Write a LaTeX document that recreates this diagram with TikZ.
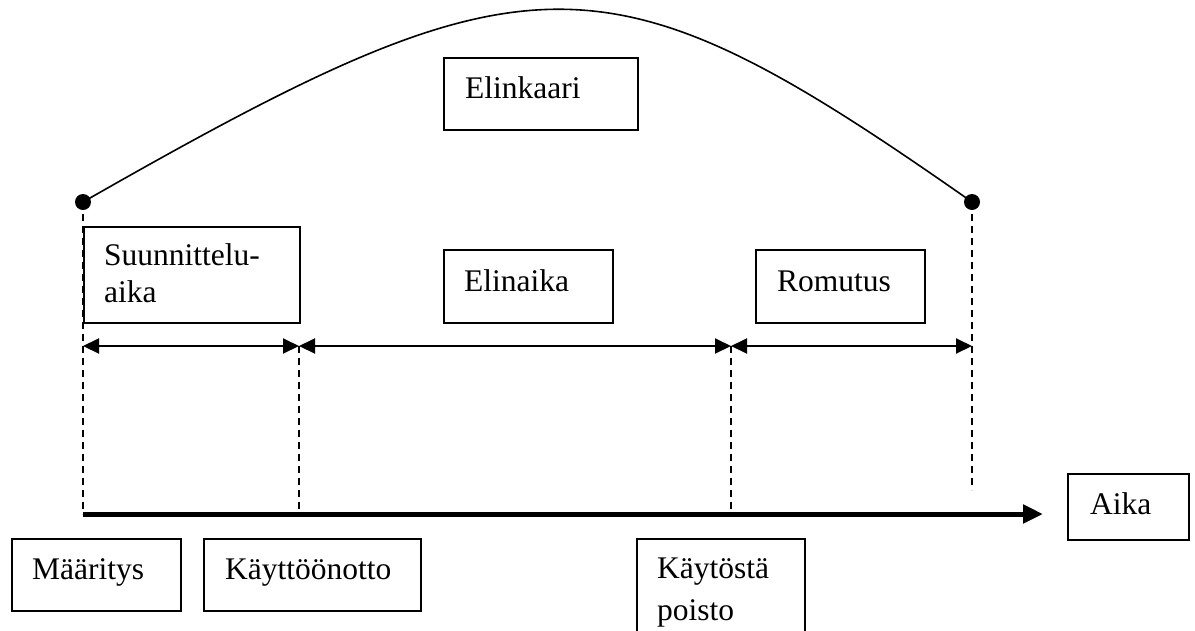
\documentclass[tikz,border=0pt]{standalone}
\usepackage{fontspec}
\setmainfont{Liberation Serif}
\usetikzlibrary{arrows.meta}
\begin{document}
\begin{tikzpicture}[x=1pt,y=-1pt,
  box/.style={draw, line width=1.5pt, inner sep=0pt, anchor=north west},
  txt/.style={inner sep=0pt, anchor=base west, align=left, font=\fontsize{31.5}{37}\selectfont},
  guide/.style={line width=1.5pt, dash pattern=on 7pt off 5pt},
  span/.style={line width=2pt, {Triangle[length=16pt,width=15pt]}-{Triangle[length=16pt,width=15pt]}},
  dot/.style={circle, fill, inner sep=0pt, minimum size=16pt},
  axis/.style={line width=5pt, -{Triangle[length=20pt,width=18pt]}},
  arc/.style={line width=1.6pt}
]
\useasboundingbox (0,0) rectangle (1195,630);
\clip (0,0) rectangle (1195,630);

% boxes
\node[box, minimum width=194pt, minimum height=72pt] (bElinkaari) at (443,57) {};
\node[box, minimum width=216pt, minimum height=96pt] (bSuunn) at (83,226) {};
\node[box, minimum width=169pt, minimum height=73pt] (bElinaika) at (443,249) {};
\node[box, minimum width=169pt, minimum height=73pt] (bRomutus) at (755,249) {};
\node[box, minimum width=169pt, minimum height=72pt] (bMaar) at (11,538) {};
\node[box, minimum width=217pt, minimum height=72pt] (bKayttoon) at (203,538) {};
\node[box, minimum width=168pt, minimum height=120pt] (bKaytosta) at (636,538) {};
\node[box, minimum width=121pt, minimum height=66pt] (bAika) at (1067,473) {};

% texts
\node[txt] (tElinkaari) at (465,98) {Elinkaari};
\node[txt] (tSuunn) at (104,302) {Suunnittelu-\\aika};
\node[txt] (tElinaika) at (464,291) {Elinaika};
\node[txt] (tRomutus) at (777,291) {Romutus};
\node[txt] (tMaar) at (32,579) {Määritys};
\node[txt] (tKayttoon) at (225,579) {Käyttöönotto};
\node[txt] (tKaytosta) at (657,620) {Käytöstä\\[5pt]poisto};
\node[txt] (tAika) at (1090,514) {Aika};

% points
\node[dot] (L) at (83,202) {};
\node[dot] (R) at (972,202) {};
\coordinate (t0) at (83,346);
\coordinate (t1) at (299,346);
\coordinate (t2) at (731,346);
\coordinate (t3) at (972,346);
\coordinate (a0) at (83,514);
\coordinate (a1) at (299,514);
\coordinate (a2) at (731,514);
\coordinate (aEnd) at (1043,514);
\coordinate (rEnd) at (972,490);

% life-cycle arc
\draw[arc] (L.center) .. controls (533,-55) and (605,-55) .. (R.center);

% guides
\draw[guide] (L.center) -- (a0);
\draw[guide] (t1) -- (a1);
\draw[guide] (t2) -- (a2);
\draw[guide] (R.center) -- (rEnd);

% spans
\draw[span] (t0) -- (t1);
\draw[span] (t1) -- (t2);
\draw[span] (t2) -- (t3);

% time axis
\draw[axis] (a0) -- (aEnd);
\end{tikzpicture}
\end{document}
